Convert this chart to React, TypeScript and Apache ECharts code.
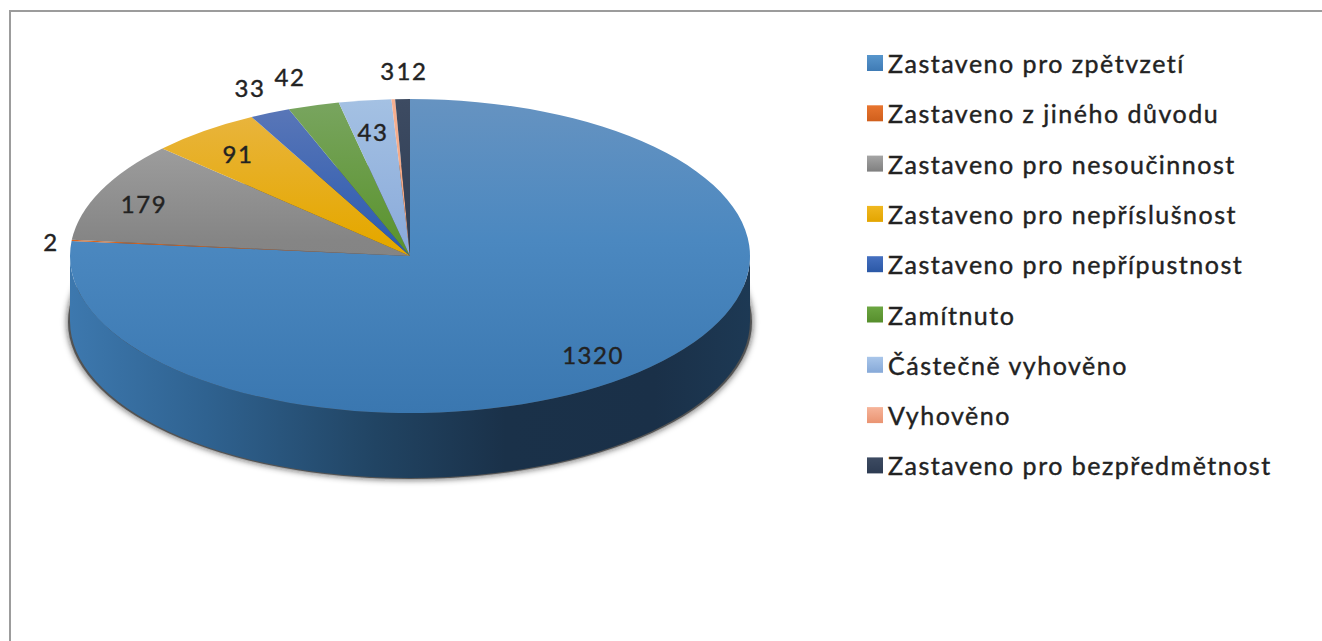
import React, { useEffect, useRef } from "react";
import * as echarts from "echarts";

const CATEGORIES = [
  "Zastaveno pro zpětvzetí",
  "Zastaveno z jiného důvodu",
  "Zastaveno pro nesoučinnost",
  "Zastaveno pro nepříslušnost",
  "Zastaveno pro nepřípustnost",
  "Zamítnuto",
  "Částečně vyhověno",
  "Vyhověno",
  "Zastaveno pro bezpředmětnost",
];
const VALUES = [1320, 2, 179, 91, 33, 42, 43, 3, 12];

// top, middle and bottom colours of each slice's face
const FACE_COLORS = [
  ["#6693c1", "#4b88c0", "#3a77b0"],
  ["#e0702c", "#d9651f", "#c95a18"],
  ["#a9a9a9", "#858585", "#7c7c7c"],
  ["#e9b645", "#e5a800", "#d89e00"],
  ["#5c78b8", "#2f5db0", "#2a55a0"],
  ["#79a560", "#5c9430", "#54882a"],
  ["#a4c1e3", "#8cacdb", "#82a2d0"],
  ["#f6b092", "#f2a27c", "#e89870"],
  ["#3d4b62", "#2f3e55", "#2a384d"],
];
const LEGEND_COLORS = [
  ["#5896cc", "#3f7bb5"],
  ["#e8752f", "#d05f1c"],
  ["#a5a5a5", "#7f7f7f"],
  ["#f0b820", "#e3a500"],
  ["#4570c0", "#2b58a6"],
  ["#6ca642", "#568e2c"],
  ["#a9c6ea", "#86a9d8"],
  ["#f6b49a", "#ea9472"],
  ["#3d4b62", "#2d3b52"],
];
// centre of each value label; the labels sit where the source chart put them
const LABEL_CENTERS = [
  [593, 354], [51, 241], [144, 203], [238, 153], [250, 87],
  [290, 76], [373, 131], [388, 70], [412, 70],
];

const CX = 410, CY = 256, RX = 340, RY = 157, DEPTH = 65;
const FONT = "Lato";
const TEXT = "#222222";
const TOTAL = VALUES.reduce((a, b) => a + b, 0);

const px = (a: number) => CX + RX * Math.sin(a);
const py = (a: number) => CY - RY * Math.cos(a);

function slicePath(a0: number, a1: number) {
  const large = a1 - a0 > Math.PI ? 1 : 0;
  return `M${CX} ${CY}L${px(a0)} ${py(a0)}A${RX} ${RY} 0 ${large} 1 ${px(a1)} ${py(a1)}Z`;
}

function wallPath(a0: number, a1: number) {
  const f0 = Math.max(a0, Math.PI / 2);
  const f1 = Math.min(a1, (3 * Math.PI) / 2);
  if (f1 <= f0) return null;
  return (
    `M${px(f0)} ${py(f0)}A${RX} ${RY} 0 0 1 ${px(f1)} ${py(f1)}` +
    `L${px(f1)} ${py(f1) + DEPTH}A${RX} ${RY} 0 0 0 ${px(f0)} ${py(f0) + DEPTH}Z`
  );
}

function shadowPath() {
  const rx = RX + 2, ry = RY, cy = CY + DEPTH + 1;
  return `M${CX - rx} ${cy}A${rx} ${ry} 0 1 1 ${CX + rx} ${cy}A${rx} ${ry} 0 1 1 ${CX - rx} ${cy}Z`;
}

const wallFill = new echarts.graphic.LinearGradient(
  CX - RX, 0, CX + RX, 0,
  [
    { offset: 0, color: "#3d78ae" },
    { offset: 0.2, color: "#2f6290" },
    { offset: 0.45, color: "#214463" },
    { offset: 0.64, color: "#1a3149" },
    { offset: 0.86, color: "#1a3048" },
    { offset: 1, color: "#1d3954" },
  ],
  true
);

function buildSeries() {
  let acc = 0;
  return VALUES.map((v, i) => {
    const start = (acc / TOTAL) * Math.PI * 2;
    acc += v;
    const end = (acc / TOTAL) * Math.PI * 2;
    const [c0, c1, c2] = FACE_COLORS[i];
    const faceFill = new echarts.graphic.LinearGradient(
      0, CY - RY, 0, CY + RY,
      [
        { offset: 0, color: c0 },
        { offset: 0.45, color: c1 },
        { offset: 1, color: c2 },
      ],
      true
    );
    return {
      type: "custom",
      name: CATEGORIES[i],
      coordinateSystem: "none",
      silent: true,
      data: [{ name: CATEGORIES[i], value: v }],
      renderItem: (_p: any, api: any) => {
        const children: any[] = [];
        const wall = wallPath(start, end);
        if (wall) {
          children.push({
            type: "path",
            shape: { pathData: shadowPath() },
            style: {
              fill: "rgba(70,70,70,0.85)",
              shadowBlur: 7,
              shadowColor: "rgba(20,20,20,0.95)",
            },
          });
          children.push({
            type: "path",
            shape: { pathData: wall },
            style: { fill: wallFill },
          });
        }
        children.push({
          type: "path",
          shape: { pathData: slicePath(start, end) },
          style: { fill: faceFill },
        });
        children.push({
          type: "text",
          z2: 10,
          style: {
            text: String(api.value(0)),
            x: LABEL_CENTERS[i][0],
            y: LABEL_CENTERS[i][1],
            align: "center",
            verticalAlign: "middle",
            fill: TEXT,
            stroke: TEXT,
            lineWidth: 0.4,
            font: `24px ${FONT}`,
          },
        });
        return { type: "group", children };
      },
    };
  });
}

export default function App() {
  const ref = useRef<HTMLDivElement>(null);
  useEffect(() => {
    document.body.style.margin = "0";
    const chart = echarts.init(ref.current!, null, { renderer: "svg" });
    chart.setOption({
      animation: false,
      backgroundColor: "#ffffff",
      legend: {
        orient: "vertical",
        left: 862,
        top: 43,
        itemWidth: 16,
        itemHeight: 16,
        itemGap: 20.3,
        selectedMode: false,
        icon: "rect",
        textStyle: {
          fontFamily: FONT,
          fontSize: 25,
          color: TEXT,
          lineHeight: 30,
          textBorderColor: TEXT,
          textBorderWidth: 0.4,
        },
        data: CATEGORIES.map((name, i) => ({
          name,
          itemStyle: {
            color: new echarts.graphic.LinearGradient(0, 0, 0, 1, [
              { offset: 0, color: LEGEND_COLORS[i][0] },
              { offset: 1, color: LEGEND_COLORS[i][1] },
            ]),
          },
        })),
      },
      graphic: [
        { type: "rect", shape: { x: 9, y: 10, width: 1313, height: 2 }, style: { fill: "#9c9c9c" } },
        { type: "rect", shape: { x: 9, y: 10, width: 2, height: 631 }, style: { fill: "#9c9c9c" } },
      ],
      series: buildSeries(),
    });
    return () => chart.dispose();
  }, []);
  return <div ref={ref} style={{ width: 1322, height: 641, letterSpacing: "1.5px" }} />;
}
